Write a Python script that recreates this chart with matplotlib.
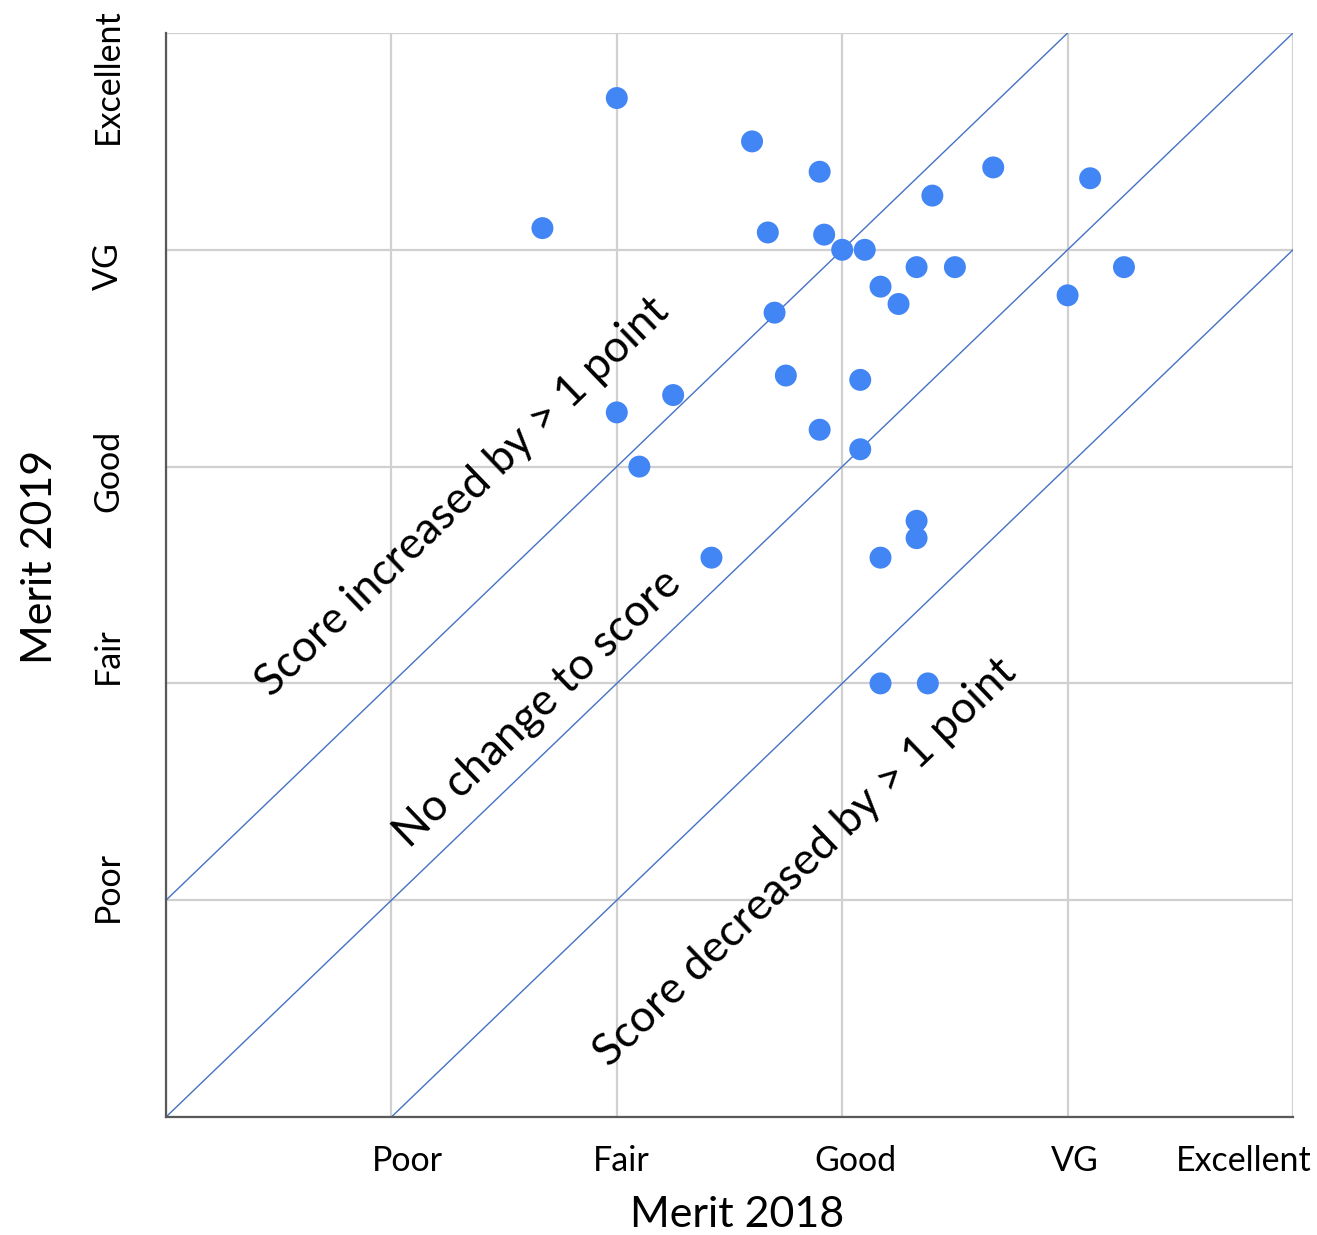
import matplotlib.pyplot as plt
import numpy as np

plt.rcParams['font.family'] = ['Lato', 'DejaVu Sans']

# merit scores (0 = none ... 5 = Excellent)
merit_2018 = [2.00, 1.67, 2.60, 2.90, 2.67, 2.92, 3.00, 3.10, 3.40, 3.67, 4.10,
              3.33, 3.50, 3.17, 3.25, 4.00, 4.25, 2.70, 2.75, 3.08, 2.00, 2.25,
              2.90, 3.08, 2.10, 2.42, 3.17, 3.33, 3.33, 3.17, 3.38]
merit_2019 = [4.70, 4.10, 4.50, 4.36, 4.08, 4.07, 4.00, 4.00, 4.25, 4.38, 4.33,
              3.92, 3.92, 3.83, 3.75, 3.79, 3.92, 3.71, 3.42, 3.40, 3.25, 3.33,
              3.17, 3.08, 3.00, 2.58, 2.58, 2.75, 2.67, 2.00, 2.00]

x_labels = ['Poor', 'Fair', 'Good', 'VG', 'Excellent']
x_label_pos = [1.07, 2.02, 3.06, 4.03, 4.78]
y_labels = ['Poor', 'Fair', 'Good', 'VG', 'Excellent']
y_label_pos = [1.065, 2.13, 2.98, 3.925, 4.80]

# diagonal reference lines: offset of y = x + k
offsets = [1, 0, -1]
notes = ['Score increased by > 1 point', 'No change to score', 'Score decreased by > 1 point']
note_xy = [(1.317, 2.86), (1.650, 1.882), (2.838, 1.176)]

fig = plt.figure(figsize=(13.17, 12.35), dpi=100)
ax = fig.add_axes([166/1317, 1 - 1117/1235, (1293-166)/1317, (1117-33)/1235])

ax.set_xlim(0, 5)
ax.set_ylim(0, 5)

# grid on whole units
ax.set_xticks(np.arange(0, 6))
ax.set_yticks(np.arange(0, 6))
ax.set_xticklabels([])
ax.set_yticklabels([])
ax.tick_params(which='major', length=0)
ax.grid(True, color='#d0d0d0', linewidth=1.6)
ax.set_axisbelow(True)

# labels sit a bit off the grid lines, like in the original
ax.set_xticks(x_label_pos, minor=True)
ax.set_xticklabels(x_labels, minor=True, fontsize=24.5)
ax.set_yticks(y_label_pos, minor=True)
ax.set_yticklabels(y_labels, minor=True, fontsize=24.5, rotation=90, va='center')
ax.tick_params(axis='x', which='minor', length=0, pad=20)
ax.tick_params(axis='y', which='minor', length=0, pad=30)

for s in ['top', 'right']:
    ax.spines[s].set_visible(False)
for s in ['left', 'bottom']:
    ax.spines[s].set_color('#595959')
    ax.spines[s].set_linewidth(1.6)

xx = np.array([0, 5])
for k in offsets:
    ax.plot(xx, xx + k, color='#4472C4', linewidth=1.0, zorder=2)

ax.scatter(merit_2018, merit_2019, s=250, color='#4285F4', edgecolors='none', zorder=3,
           clip_on=False)

ang = np.degrees(np.arctan((1117-33)/(1293-166)))
for txt, (tx, ty) in zip(notes, note_xy):
    ax.text(tx, ty, txt, fontsize=32, rotation=ang, rotation_mode='anchor',
            ha='center', va='center', color='black')

ax.set_xlabel('Merit 2018', fontsize=31, labelpad=14)
ax.set_ylabel('Merit 2019', fontsize=31, labelpad=24)
ax.xaxis.label.set_x(0.507)
ax.yaxis.label.set_y(0.517)

fig.savefig('out.png', dpi=100)
